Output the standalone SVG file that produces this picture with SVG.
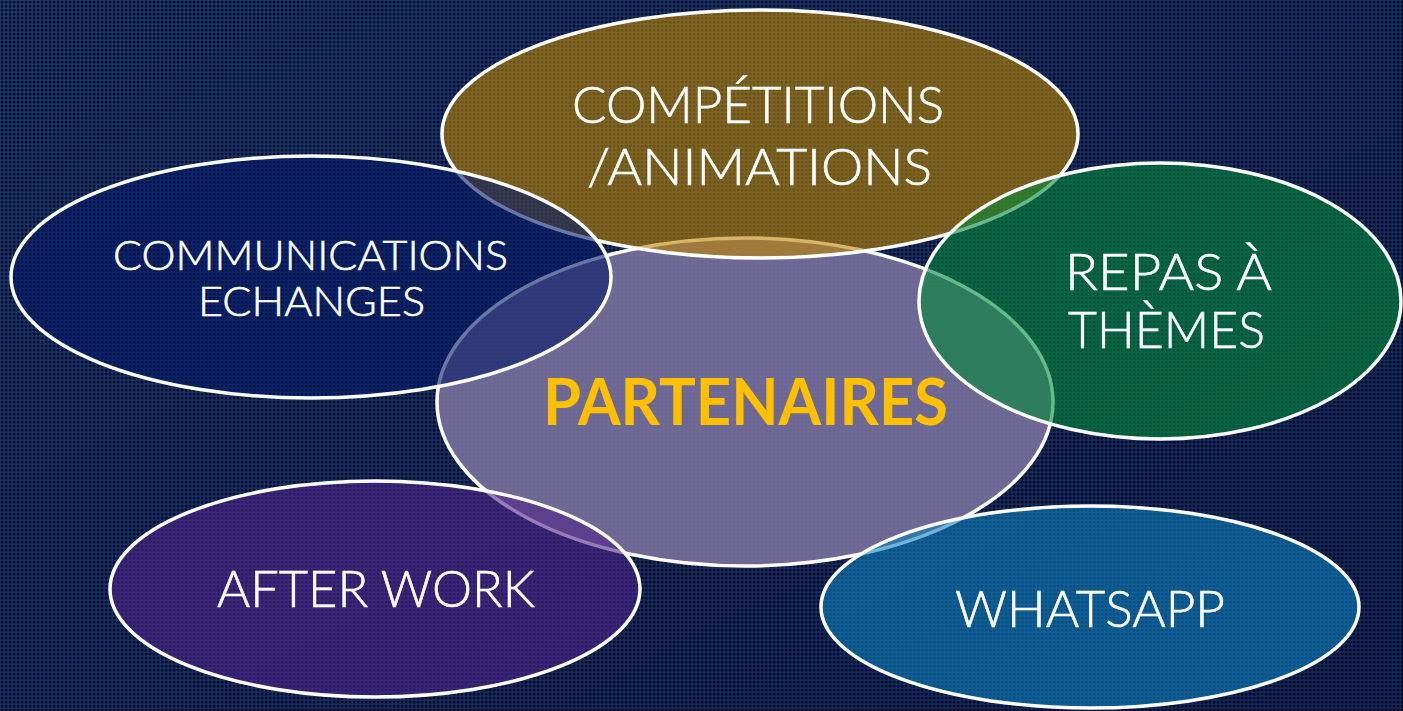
<svg xmlns="http://www.w3.org/2000/svg" width="1403" height="711" viewBox="0 0 1403 711">
<defs>
<linearGradient id="bgGrad" x1="0" y1="0" x2="1" y2="1">
<stop offset="0" stop-color="#163e82"/>
<stop offset="1" stop-color="#0d2c6a"/>
</linearGradient>
<pattern id="dots" width="4" height="4" patternUnits="userSpaceOnUse">
<rect x="0.8" y="0.8" width="2.6" height="2.6" fill="#000510"/>
</pattern>
</defs>
<style>
.ring{stroke:#ffffff;stroke-width:3.5}
.lbl{font-family:Lato,"Liberation Sans",sans-serif;font-weight:300;fill:#ffffff;stroke:#ffffff;stroke-width:0.6;text-anchor:start}
.big{font-size:52px}
.mid{font-size:42px}
.core{font-family:Lato,"Liberation Sans",sans-serif;font-weight:bold;font-size:65px;fill:#ffc000}
</style>
<rect width="1403" height="711" fill="url(#bgGrad)"/>
<rect width="1403" height="711" fill="url(#dots)"/>
<g id="connectors"/>
<g id="node-partenaires">
<ellipse class="ring" cx="745" cy="402" rx="308" ry="164" fill="#79719c" fill-opacity="0.9"/>
<text class="core" x="543" y="425" textLength="405" lengthAdjust="spacingAndGlyphs">PARTENAIRES</text>
</g>
<g id="node-competitions">
<ellipse class="ring" cx="760" cy="134" rx="318" ry="124" fill="#c08600" fill-opacity="0.6"/>
<text class="lbl big" x="572" y="123" textLength="372" lengthAdjust="spacingAndGlyphs">COMPÉTITIONS</text>
<text class="lbl big" x="587" y="185" textLength="345" lengthAdjust="spacingAndGlyphs">/ANIMATIONS</text>
</g>
<g id="node-communications">
<ellipse class="ring" cx="311" cy="277" rx="300" ry="121" fill="#061a68" fill-opacity="0.6"/>
<text class="lbl mid" x="113" y="270" textLength="395" lengthAdjust="spacingAndGlyphs">COMMUNICATIONS</text>
<text class="lbl mid" x="198" y="316" textLength="227" lengthAdjust="spacingAndGlyphs">ECHANGES</text>
</g>
<g id="node-repas">
<ellipse class="ring" cx="1160" cy="301" rx="241" ry="138" fill="#038a3a" fill-opacity="0.6"/>
<text class="lbl big" x="1065" y="290" textLength="207" lengthAdjust="spacingAndGlyphs">REPAS À</text>
<text class="lbl big" x="1068" y="348" textLength="197" lengthAdjust="spacingAndGlyphs">THÈMES</text>
</g>
<g id="node-afterwork">
<ellipse class="ring" cx="375" cy="589" rx="265" ry="108" fill="#52258a" fill-opacity="0.6"/>
<text class="lbl big" x="217" y="607" textLength="318" lengthAdjust="spacingAndGlyphs">AFTER WORK</text>
</g>
<g id="node-whatsapp">
<ellipse class="ring" cx="1090" cy="607" rx="269" ry="101" fill="#1081bc" fill-opacity="0.6"/>
<text class="lbl big" x="955" y="627" textLength="270" lengthAdjust="spacingAndGlyphs">WHATSAPP</text>
</g>
</svg>
